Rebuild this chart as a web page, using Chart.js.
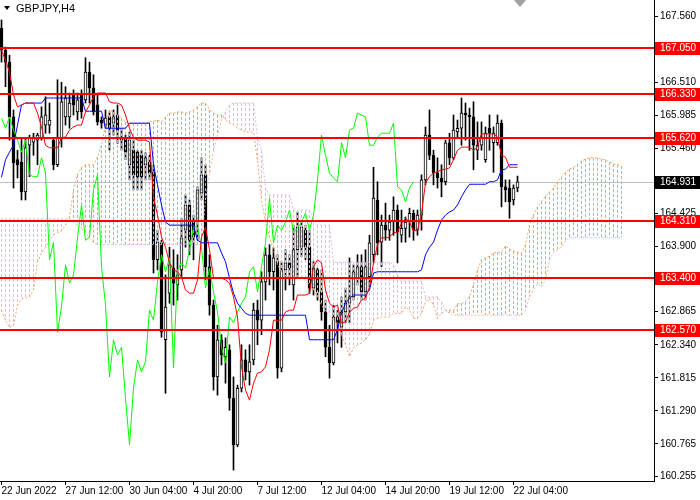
<!DOCTYPE html>
<html>
<head>
<meta charset="utf-8">
<script src="https://cdn.jsdelivr.net/npm/chart.js@4.4.0/dist/chart.umd.min.js"></script>
<style>
  html, body { margin: 0; padding: 0; background: #fff; }
  #wrap { width: 700px; height: 500px; }
</style>
</head>
<body>
<div id="wrap"><canvas id="chart" width="700" height="500"></canvas></div>
<script>
const symbolTitle = "GBPJPY,H4";

// H4 candles, one per bar index 0..129
const openP = [167.37,167.02,166.83,165.96,165.28,165.24,164.77,165.51,165.56,165.59,
  165.63,165.83,165.83,165.59,165.20,165.63,165.96,165.96,166.31,166.04,
  166.31,166.23,166.67,166.42,166.15,165.91,165.83,165.96,165.86,165.99,
  165.64,165.63,165.20,165.43,165.40,165.35,165.20,165.24,165.08,163.69,
  163.96,162.42,163.16,163.56,163.29,163.53,164.16,164.56,164.32,164.29,
  164.75,165.04,163.58,162.97,161.83,162.42,162.15,162.26,161.49,160.75,
  161.65,162.10,161.91,162.10,162.89,162.73,163.34,163.77,163.50,163.66,
  161.97,163.53,163.64,163.29,163.85,163.89,164.16,163.89,163.24,163.53,
  163.18,162.86,162.30,162.05,162.78,162.62,162.86,163.00,163.10,163.40,
  163.58,163.18,163.42,163.77,164.64,163.97,164.24,164.16,164.29,164.48,
  164.08,164.19,164.29,164.43,164.16,164.40,164.96,165.67,165.35,165.07,
  164.99,164.93,165.55,165.31,165.72,165.78,166.02,165.99,165.96,165.43,
  165.51,165.28,165.78,165.55,165.55,165.86,164.85,164.83,164.64,164.83];
const highP = [167.50,167.07,166.94,166.07,165.43,165.63,165.63,165.67,165.70,165.70,
  166.12,166.28,166.18,165.63,166.55,166.51,166.44,166.34,166.39,166.34,
  166.39,166.90,166.83,166.63,166.31,165.96,166.07,166.04,166.07,166.15,
  165.78,165.67,165.72,165.59,165.43,165.43,165.39,165.35,165.20,164.16,
  164.00,163.45,163.89,163.85,163.77,164.35,164.72,164.64,164.40,164.85,
  165.31,165.20,163.77,163.05,162.65,162.50,162.45,162.34,161.83,161.70,
  162.34,162.26,162.34,163.00,163.05,163.50,163.88,163.93,163.88,163.77,
  163.66,163.85,163.77,164.24,164.45,164.29,164.24,164.16,163.66,163.56,
  163.53,163.05,162.65,162.97,162.89,163.10,163.24,163.72,163.61,163.77,
  163.77,163.85,164.08,165.16,164.93,164.40,164.59,164.40,164.69,164.56,
  164.48,164.37,164.51,164.48,164.48,165.04,165.80,166.07,165.43,165.31,
  165.20,165.59,165.70,165.99,165.91,166.26,166.18,166.10,166.20,165.88,
  165.88,165.80,165.99,165.80,165.99,165.91,164.96,164.96,164.88,165.02];
const lowP = [166.83,166.44,165.59,164.83,164.99,164.64,164.64,165.01,165.35,165.20,
  165.59,165.70,165.70,165.12,165.17,165.48,165.83,165.78,165.99,165.91,
  165.94,166.18,166.18,165.99,165.83,165.78,165.78,165.43,165.67,165.54,
  165.43,165.28,164.96,164.80,164.80,164.80,164.96,164.96,163.48,163.53,
  162.46,161.57,163.00,162.97,163.05,163.41,163.89,163.77,163.69,164.00,
  164.64,163.37,162.81,161.62,161.54,162.02,161.73,161.30,160.35,160.72,
  161.59,161.78,161.70,162.02,162.34,162.50,163.05,163.29,163.21,161.81,
  161.91,163.21,163.29,163.05,163.42,163.74,163.69,163.16,163.13,163.05,
  162.73,162.15,161.81,162.02,162.37,162.30,162.69,162.69,163.05,163.29,
  163.05,163.05,163.26,163.64,163.77,163.58,164.00,164.00,164.08,163.64,
  163.97,163.97,164.05,164.00,164.08,164.16,164.88,165.28,164.88,164.83,
  164.69,164.88,165.20,165.28,165.63,165.51,165.59,165.43,165.12,165.28,
  165.43,165.24,165.43,165.08,165.51,164.53,164.61,164.35,164.56,164.77];
const closeP = [167.02,166.83,165.96,165.23,165.20,164.77,165.47,165.63,165.64,165.67,
  165.96,165.99,165.91,165.20,165.63,166.20,166.26,166.18,166.15,166.23,
  166.04,166.67,166.42,166.04,165.88,165.86,165.94,165.78,165.96,165.75,
  165.59,165.40,165.59,165.04,165.01,165.01,165.31,165.07,163.69,163.97,
  162.54,162.94,163.61,163.32,163.45,164.04,164.56,164.00,164.05,164.80,
  165.04,163.58,162.97,161.83,162.42,162.18,162.30,161.49,160.75,161.65,
  162.10,161.91,162.07,162.89,162.73,163.34,163.77,163.50,163.72,161.97,
  163.53,163.64,163.56,163.85,164.21,164.21,163.89,163.24,163.56,163.18,
  162.86,162.30,162.05,162.78,162.69,162.86,163.00,163.10,163.50,163.58,
  163.18,163.58,163.96,164.67,163.96,164.24,164.16,164.29,164.48,164.13,
  164.19,164.29,164.43,164.16,164.40,164.96,165.67,165.35,165.07,164.99,
  164.93,165.55,165.31,165.75,165.78,166.02,165.99,165.96,165.51,165.51,
  165.64,165.70,165.70,165.70,165.86,164.85,164.80,164.61,164.83,164.93];

// Ichimoku lines
const tenkan = [167.02,166.86,166.67,166.31,166.12,166.15,166.18,166.18,166.18,166.02,
  165.80,165.51,165.47,165.47,165.47,165.63,165.64,165.75,165.80,165.83,
  165.83,166.04,166.15,166.28,166.34,166.34,166.34,166.20,166.18,166.18,
  166.15,165.99,165.78,165.63,165.59,165.59,165.59,165.56,164.69,164.40,
  164.05,163.89,163.64,163.53,163.50,163.42,163.21,163.16,163.16,163.37,
  164.05,164.21,163.85,163.40,163.40,163.40,163.37,163.32,163.10,162.78,
  161.99,161.62,161.46,161.73,161.89,161.91,161.99,162.26,162.73,162.73,
  162.73,162.86,162.89,162.89,163.13,163.13,163.13,163.16,163.58,163.69,
  163.64,163.21,163.00,162.94,162.97,162.69,162.70,162.86,162.92,162.94,
  163.05,163.08,163.26,163.64,163.93,164.04,164.04,164.05,164.12,164.13,
  164.27,164.35,164.29,164.15,164.16,164.43,164.91,165.01,165.07,165.09,
  165.12,165.13,165.15,165.28,165.43,165.48,165.48,165.48,165.43,165.48,
  165.69,165.69,165.69,165.69,165.64,165.35,165.32,165.16,165.16,165.16];
const kijun = [165.00,165.28,165.40,165.51,165.83,166.15,166.18,166.18,166.18,166.18,
  166.18,166.26,166.26,166.26,166.26,166.26,166.26,166.26,166.26,166.26,
  166.26,166.05,166.05,166.05,166.05,166.05,165.78,165.78,165.78,165.78,
  165.78,165.78,165.86,165.86,165.86,165.86,165.86,165.86,165.20,164.88,
  164.56,164.29,164.24,164.24,164.24,164.24,164.24,164.24,164.24,164.00,
  163.96,163.96,163.96,163.96,163.96,163.80,163.66,163.40,163.16,163.00,
  162.92,162.84,162.81,162.81,162.81,162.81,162.81,162.81,162.81,162.81,
  162.81,162.81,162.81,162.81,162.81,162.81,162.81,162.42,162.42,162.42,
  162.42,162.42,162.42,162.42,162.58,162.84,163.00,163.08,163.13,163.13,
  163.13,163.13,163.21,163.48,163.50,163.50,163.50,163.50,163.50,163.50,
  163.50,163.50,163.50,163.50,163.50,163.53,163.77,163.89,163.97,164.16,
  164.32,164.40,164.45,164.48,164.56,164.69,164.80,164.89,164.89,164.89,
  164.89,164.89,164.93,164.93,164.96,165.12,165.13,165.20,165.20,165.20];
// cloud runs 26 bars past the last candle
const spanA = [162.89,162.73,162.61,162.65,162.97,163.07,163.08,163.10,163.21,163.65,
  163.80,163.88,164.00,164.08,164.12,164.15,164.24,164.37,164.80,165.04,
  165.16,165.20,165.20,165.20,165.32,165.51,165.83,166.07,166.04,165.99,
  165.94,165.88,165.86,165.86,165.86,165.86,165.86,165.88,165.89,165.91,
  165.88,165.96,166.02,166.02,166.04,166.04,166.02,166.04,166.07,166.12,
  166.18,166.18,166.07,166.02,165.99,165.99,165.91,165.86,165.83,165.78,
  165.75,165.72,165.72,165.72,165.27,164.64,164.29,164.05,163.85,163.61,
  163.50,163.43,163.42,163.42,163.42,163.40,163.37,163.29,163.21,163.10,
  162.97,162.88,162.80,162.73,162.69,162.50,162.34,162.15,162.29,162.34,
  162.37,162.42,162.50,162.73,162.76,162.78,162.78,162.78,162.84,162.84,
  162.84,162.94,162.89,162.76,162.76,162.84,163.02,163.07,162.97,162.76,
  162.84,162.88,162.89,162.89,162.99,163.00,163.02,163.11,163.29,163.53,
  163.69,163.72,163.75,163.80,163.81,163.81,163.91,163.86,163.83,163.81,
  163.80,163.93,164.24,164.40,164.53,164.62,164.70,164.77,164.83,164.93,
  165.01,165.08,165.13,165.16,165.21,165.26,165.29,165.31,165.31,165.31,
  165.29,165.28,165.24,165.21,165.20,165.18];
const spanB = [164.34,164.34,164.34,164.34,164.34,164.34,164.34,164.34,164.34,164.34,
  164.34,164.34,164.34,164.34,164.34,164.34,164.34,164.34,164.29,164.24,
  164.19,164.13,164.04,163.96,163.93,163.93,163.93,163.93,163.93,163.93,
  163.93,163.93,163.93,163.93,163.93,163.93,163.93,163.93,163.93,163.93,
  163.93,163.93,163.93,163.93,163.93,163.93,163.93,163.93,163.93,163.93,
  163.93,164.64,165.04,165.43,165.67,165.91,166.04,166.15,166.18,166.18,
  166.18,166.18,166.18,166.18,165.63,165.43,164.83,164.72,164.72,164.72,
  164.72,164.72,164.72,164.48,164.48,164.48,164.48,164.48,164.35,164.24,
  164.24,164.24,164.24,163.65,163.65,163.65,163.65,163.65,163.65,163.65,
  163.65,163.65,163.65,163.65,163.65,163.65,163.65,163.65,163.61,163.45,
  163.35,163.35,163.35,163.35,163.35,163.35,163.10,163.10,163.10,163.10,
  163.02,162.89,162.84,162.81,162.81,162.81,162.81,162.81,162.81,162.81,
  162.81,162.81,162.81,162.81,162.81,162.81,162.81,162.81,162.81,162.81,
  162.81,162.89,163.10,163.21,163.31,163.26,163.37,163.69,163.81,163.85,
  163.89,164.00,164.04,164.04,164.04,164.04,164.04,164.04,164.04,164.04,
  164.04,164.04,164.04,164.04,164.04,164.05];
const chikouShift = 26;

const levels = [167.050, 166.330, 165.620, 164.310, 163.400, 162.570];
const bidPrice = 164.931;

const yTicks = [167.560, 167.035, 166.510, 165.985, 165.460, 164.935, 164.425, 163.900,
  163.375, 162.865, 162.340, 161.815, 161.290, 160.765, 160.255];
const xTickBars = [0, 16, 32, 48, 64, 80, 96, 112, 128];
const xTickLabels = ["22 Jun 2022", "27 Jun 12:00", "30 Jun 04:00", "4 Jul 20:00", "7 Jul 12:00",
  "12 Jul 04:00", "14 Jul 20:00", "19 Jul 12:00", "22 Jul 04:00"];

const FONT = "Liberation Sans";
Chart.defaults.font.family = FONT;
Chart.defaults.font.size = 10;
Chart.defaults.color = "#000";

// MT4 draws the cloud as a dotted vertical stroke per bar, coloured by which span is on top.
// Each bar becomes its own little segment (top, bottom, gap).
const cloudUp = [], cloudDown = [];
spanA.forEach((a, i) => {
  const b = spanB[i];
  const dst = a >= b ? cloudUp : cloudDown;
  dst.push({ x: i, y: Math.max(a, b) }, { x: i, y: Math.min(a, b) }, { x: i, y: null });
});

const pts = arr => arr.map((v, i) => ({ x: i, y: v }));

const overlay = {
  id: "overlay",
  beforeDatasetsDraw(chart) {
    const { ctx, chartArea: a, scales: { y } } = chart;
    const py = Math.round(y.getPixelForValue(bidPrice)) + 0.5;
    ctx.save();
    ctx.strokeStyle = "#C0C0C0";
    ctx.lineWidth = 1;
    ctx.beginPath(); ctx.moveTo(a.left, py); ctx.lineTo(a.right, py); ctx.stroke();
    ctx.restore();
  },
  afterDatasetsDraw(chart) {
    const { ctx, chartArea: a, scales: { y } } = chart;
    ctx.save();
    ctx.strokeStyle = "#FF0000";
    ctx.lineWidth = 2;
    levels.forEach(v => {
      const py = Math.round(y.getPixelForValue(v));
      ctx.beginPath(); ctx.moveTo(a.left, py); ctx.lineTo(a.right, py); ctx.stroke();
    });
    ctx.restore();
  },
  afterDraw(chart) {
    const { ctx, chartArea: a, scales: { y } } = chart;
    ctx.save();
    ctx.font = "10px '" + FONT + "'";
    ctx.textBaseline = "middle";
    const tag = (v, bg) => {
      const py = Math.round(y.getPixelForValue(v));
      ctx.fillStyle = bg;
      ctx.fillRect(a.right + 1, py - 6, chart.width - a.right - 1, 13);
      ctx.fillStyle = "#fff";
      ctx.fillText(v.toFixed(3), a.right + 6, py + 0.5);
    };
    levels.forEach(v => tag(v, "#FF0000"));
    tag(bidPrice, "#000");

    // symbol title
    ctx.fillStyle = "#000";
    ctx.beginPath(); ctx.moveTo(4, 6); ctx.lineTo(10, 6); ctx.lineTo(7, 10); ctx.closePath(); ctx.fill();
    ctx.font = "11px '" + FONT + "'";
    ctx.fillText(symbolTitle, 16, 8.5);

    // chart shift marker
    ctx.fillStyle = "#A0A0A0";
    ctx.beginPath(); ctx.moveTo(514, 0); ctx.lineTo(526, 0); ctx.lineTo(520, 7); ctx.closePath(); ctx.fill();
    ctx.restore();
  }
};

new Chart(document.getElementById("chart"), {
  type: "bar",
  data: {
    datasets: [
      {
        label: "wick",
        data: highP.map((h, i) => ({ x: i, y: [lowP[i], h] })),
        backgroundColor: "#000",
        borderWidth: 0,
        barThickness: 1,
        grouped: false,
        order: 10
      },
      {
        label: "body",
        data: openP.map((o, i) => ({ x: i, y: [o, closeP[i]] })),
        backgroundColor: openP.map((o, i) => closeP[i] >= o ? "#fff" : "#000"),
        borderColor: "#000",
        borderWidth: 1,
        borderSkipped: false,
        barThickness: 3,
        grouped: false,
        order: 9
      },
      {
        type: "line",
        label: "cloud up",
        data: cloudUp,
        borderColor: "#F4A460",
        borderWidth: 1,
        borderDash: [3, 2],
        pointRadius: 0,
        spanGaps: false,
        order: 7
      },
      {
        type: "line",
        label: "cloud down",
        data: cloudDown,
        borderColor: "#D8BFD8",
        borderWidth: 1,
        borderDash: [3, 2],
        pointRadius: 0,
        spanGaps: false,
        order: 7
      },
      {
        type: "line",
        label: "Senkou A",
        data: pts(spanA),
        borderColor: "#F4A460",
        borderWidth: 1,
        borderDash: [2, 2],
        pointRadius: 0,
        order: 6
      },
      {
        type: "line",
        label: "Senkou B",
        data: pts(spanB),
        borderColor: "#D8BFD8",
        borderWidth: 1,
        borderDash: [2, 2],
        pointRadius: 0,
        order: 6
      },
      {
        type: "line",
        label: "Chikou",
        data: closeP.slice(chikouShift).map((c, i) => ({ x: i, y: c })),
        borderColor: "#00FF00",
        borderWidth: 1,
        pointRadius: 0,
        order: 3
      },
      {
        type: "line",
        label: "Kijun",
        data: pts(kijun),
        borderColor: "#0000FF",
        borderWidth: 1,
        pointRadius: 0,
        order: 2
      },
      {
        type: "line",
        label: "Tenkan",
        data: pts(tenkan),
        borderColor: "#FF0000",
        borderWidth: 1,
        pointRadius: 0,
        order: 1
      }
    ]
  },
  options: {
    responsive: false,
    animation: false,
    events: [],
    layout: { padding: 0 },
    plugins: { legend: { display: false }, tooltip: { enabled: false } },
    scales: {
      x: {
        type: "linear",
        offset: false,
        min: -0.375,
        max: 163.125,
        afterFit: s => { s.height = 19; s.paddingLeft = 0; s.paddingRight = 0; },
        afterBuildTicks: s => { s.ticks = xTickBars.map(v => ({ value: v })); },
        ticks: {
          autoSkip: false,
          maxRotation: 0,
          align: "start",
          padding: 0,
          callback: (v, i) => xTickLabels[i]
        },
        grid: { offset: false, drawOnChartArea: false, drawTicks: true, tickLength: 4, color: "#000" },
        border: { display: true, color: "#000", width: 1 }
      },
      y: {
        position: "right",
        min: 160.176,
        max: 167.817,
        afterFit: s => { s.width = 46; s.paddingTop = 0; s.paddingBottom = 0; },
        afterBuildTicks: s => { s.ticks = yTicks.map(v => ({ value: v })); },
        ticks: { padding: 2, callback: v => v.toFixed(3) },
        grid: { drawOnChartArea: false, drawTicks: true, tickLength: 4, color: "#000" },
        border: { display: true, color: "#000", width: 1 }
      }
    }
  },
  plugins: [overlay]
});
</script>
</body>
</html>
